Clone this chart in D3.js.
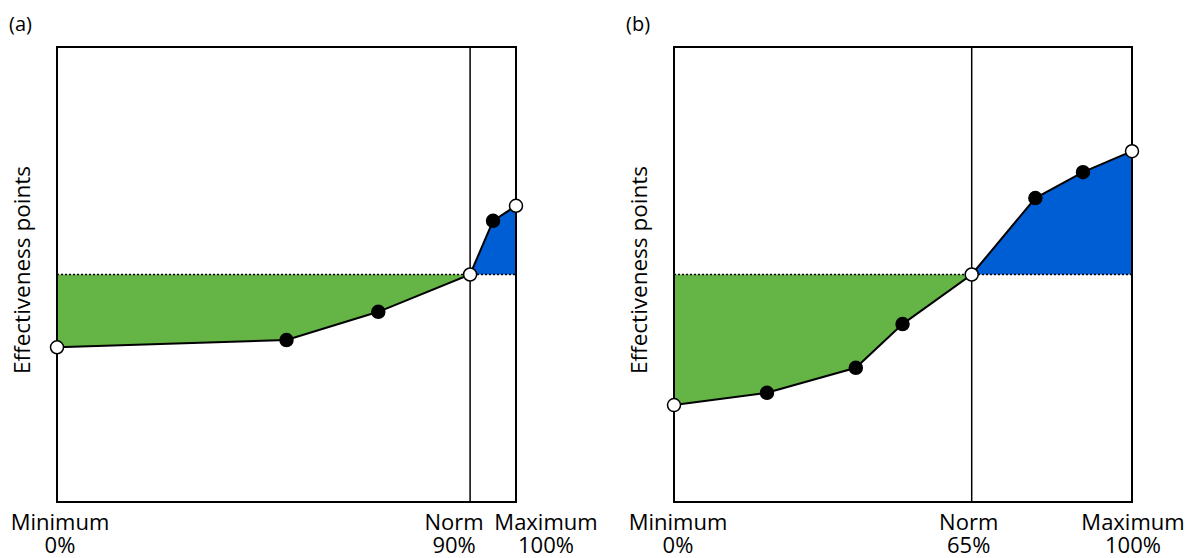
<!DOCTYPE html>
<html><head><meta charset="utf-8">
<script src="https://cdn.jsdelivr.net/npm/d3@7"></script>
<style>body{margin:0;background:#fff}svg{display:block}text{font-family:"Open Sans",sans-serif;fill:#000}</style>
</head><body>
<svg id="c" width="1195" height="558"></svg>
<script>
// Panel (a)
const panelA_x = [0, 50, 70, 90, 95, 100];
const panelA_y = [34, 35.6, 41.8, 50, 61.8, 65.1];
const panelA_open = [true, false, false, true, false, true];
const panelA_norm = 90;
// Panel (b)
const panelB_x = [0, 20.3, 39.7, 49.9, 65, 78.9, 89.3, 100];
const panelB_y = [21.3, 24, 29.5, 39.1, 50, 66.8, 72.5, 77.1];
const panelB_open = [true, false, false, false, true, false, false, true];
const panelB_norm = 65;
const normLevel = 50;
const tickNames = ["Minimum", "Norm", "Maximum"];
const panelA_tickPct = ["0%", "90%", "100%"];
const panelB_tickPct = ["0%", "65%", "100%"];
const panelTitles = ["(a)", "(b)"];
const yTitle = "Effectiveness points";

const svg = d3.select("#c");
const green = "#64b446", blue = "#005ed5";

function drawPanel(o) {
  const g = svg.append("g");
  const x = d3.scaleLinear().domain([0, 100]).range([o.left, o.right]);
  const y = d3.scaleLinear().domain([0, 100]).range([502, 47]);
  const pts = o.xs.map((v, i) => ({x: v, y: o.ys[i], open: o.open[i]}));
  const left = pts.filter(p => p.x <= o.norm);
  const right = pts.filter(p => p.x >= o.norm);
  const area = d3.area().x(d => x(d.x)).y0(y(normLevel)).y1(d => y(d.y));
  g.append("path").datum(left).attr("d", area).attr("fill", green);
  g.append("path").datum(right).attr("d", area).attr("fill", blue);
  g.append("line").attr("x1", x(0)).attr("x2", x(100)).attr("y1", y(normLevel)).attr("y2", y(normLevel))
    .attr("stroke", "#000").attr("stroke-width", 1.5).attr("stroke-dasharray", "2,2");
  g.append("rect").attr("x", x(0)).attr("y", y(100)).attr("width", x(100) - x(0)).attr("height", y(0) - y(100))
    .attr("fill", "none").attr("stroke", "#000").attr("stroke-width", 2);
  g.append("line").attr("x1", x(o.norm)).attr("x2", x(o.norm)).attr("y1", y(100)).attr("y2", y(0))
    .attr("stroke", "#000").attr("stroke-width", 1.5);
  g.append("path").datum(pts).attr("d", d3.line().x(d => x(d.x)).y(d => y(d.y)))
    .attr("fill", "none").attr("stroke", "#000").attr("stroke-width", 2);
  g.selectAll("circle").data(pts).join("circle")
    .attr("cx", d => x(d.x)).attr("cy", d => y(d.y)).attr("r", 6.5)
    .attr("fill", d => d.open ? "#fff" : "#000").attr("stroke", "#000").attr("stroke-width", 1.5);
  const tickX = [0, o.norm, 100];
  tickX.forEach((v, i) => {
    const cx = x(v) + o.dx[i];
    g.append("text").attr("x", cx).attr("y", 530).attr("text-anchor", "middle").attr("font-size", 22).text(tickNames[i]);
    g.append("text").attr("x", cx).attr("y", 553).attr("text-anchor", "middle").attr("font-size", 22).text(o.pct[i]);
  });
  g.append("text").attr("x", o.left - 48).attr("y", 31).attr("font-size", 20).text(o.title);
  g.append("text").attr("transform", `translate(${o.left - 27},${270}) rotate(-90)`)
    .attr("text-anchor", "middle").attr("font-size", 22.5).text(yTitle);
}

drawPanel({left: 57, right: 516, xs: panelA_x, ys: panelA_y, open: panelA_open, norm: panelA_norm,
  pct: panelA_tickPct, dx: [3, -16, 30], title: panelTitles[0]});
drawPanel({left: 674, right: 1132, xs: panelB_x, ys: panelB_y, open: panelB_open, norm: panelB_norm,
  pct: panelB_tickPct, dx: [4, -3, 1], title: panelTitles[1]});
</script>
</body></html>
